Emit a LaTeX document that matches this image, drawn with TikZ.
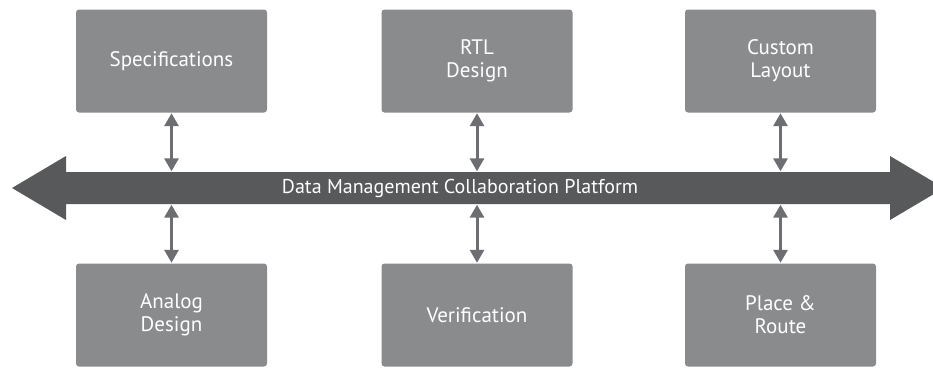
\documentclass[tikz,border=0pt]{standalone}
\usepackage{fontspec}
\setmainfont{PT Sans}
\usepackage{tikz}
\usetikzlibrary{positioning}
\usetikzlibrary{shapes,arrows,calc,arrows.meta}

\definecolor{boxgray}{HTML}{8A8B8D}
\definecolor{bandgray}{HTML}{58595B}
\definecolor{linkgray}{HTML}{6D6E71}

\tikzset{
  stage/.style={fill=boxgray, rounded corners=3pt, minimum width=191pt, minimum height=103pt,
    text=white, align=center, font=\fontsize{21}{23}\selectfont, inner sep=0pt},
  link/.style={draw=linkgray, line width=3pt, {Triangle[length=13pt,width=14pt]}-{Triangle[length=13pt,width=14pt]}, shorten <=0.5pt, shorten >=0.5pt}
}

\begin{document}
\begin{tikzpicture}[x=1pt,y=-1pt]
  \useasboundingbox (0,0) rectangle (933,367);
  \clip (0,0) rectangle (933,367);

  % Platform band
  \fill[bandgray] (12,188) -- (66,156) -- (66,172) -- (890,172) -- (890,156) -- (944,188)
    -- (890,220) -- (890,204) -- (66,204) -- (66,220) -- cycle;

  % Nodes
  \node[stage] (spec) at (171.5,61) {Specifications};
  \node[stage] (rtl) at (477,61) {RTL\\Design};
  \node[stage] (cust) at (780.5,61) {Custom\\Layout};
  \node[stage] (ana) at (171.5,315) {Analog\\Design};
  \node[stage] (veri) at (477,315) {Verification};
  \node[stage] (pnr) at (780.5,315) {Place \&\\Route};
  \node[text=white, font=\fontsize{20}{22}\selectfont, minimum height=32pt, inner sep=0pt] (plat) at (460,188) {Data Management Collaboration Platform};

  % Arrows
  \draw[link] (spec.south) -- (spec.south |- plat.north);
  \draw[link] (rtl.south) -- (rtl.south |- plat.north);
  \draw[link] (cust.south) -- (cust.south |- plat.north);
  \draw[link] (ana.north) -- (ana.north |- plat.south);
  \draw[link] (veri.north) -- (veri.north |- plat.south);
  \draw[link] (pnr.north) -- (pnr.north |- plat.south);
\end{tikzpicture}
\end{document}
